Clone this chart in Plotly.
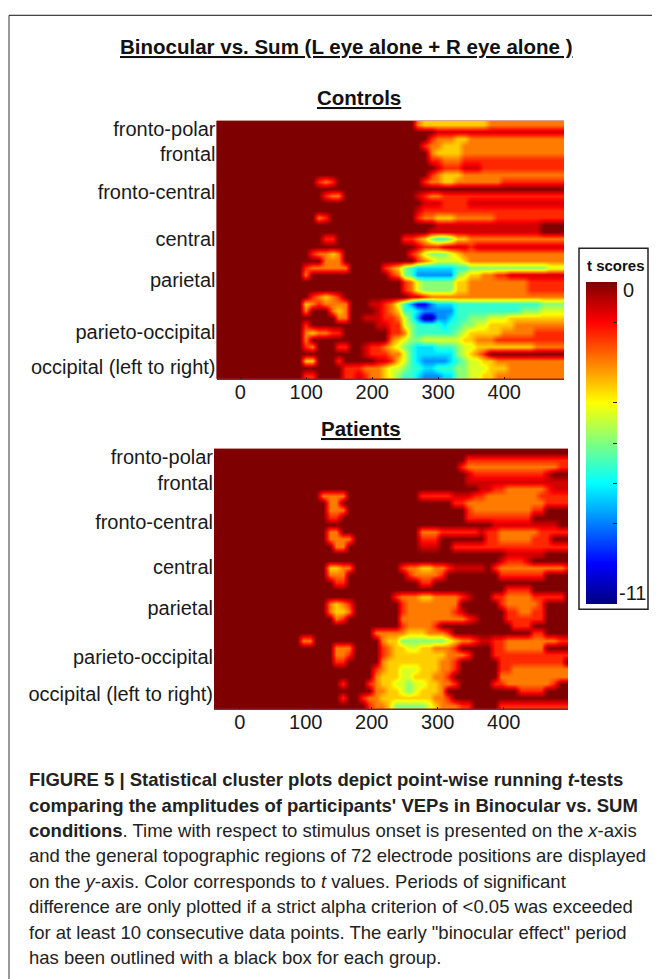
import plotly.graph_objects as go

# The page body keeps an 8 px margin, so the figure itself is 652 x 971.
PAGE_W, PAGE_H = 660, 979
BODY_MARGIN = 8
W, H = PAGE_W - BODY_MARGIN, PAGE_H - BODY_MARGIN
FONT = "Liberation Sans"

# Time of the left edge of each 10 ms column
T0_CONTROLS = -36
T0_PATIENTS = -39
N_CONTROLS = 53
N_PATIENTS = 54

X_TICKS = [0, 100, 200, 300, 400]
REGIONS = ["fronto-polar", "frontal", "fronto-central", "central", "parietal",
           "parieto-occipital", "occipital (left to right)"]
ROWPOS_CONTROLS = [1.1, 4.6, 10.0, 16.5, 22.2, 29.4, 34.3]
ROWPOS_PATIENTS = [1.2, 4.7, 10.1, 16.4, 22.0, 28.8, 33.9]

# Rows: "column:levels" runs, level in hex digits,
# a trailing + holds the last level through to the right edge.
CONTROLS = [
    "30:3444444444433+",
    "33:1+",
    "32:23334433333333+",
    "31:2334443333333+",
    "32:344443333333+",
    "32:22333222222+",
    "33:1222111222+",
    "32:2344433333333+",
    "15:232 31:2334433333332+",
    "",
    "16:233 30:12332222222222+",
    "31:111222211111+",
    "30:1222222222+",
    "15:32 30:2334443333332222+",
    "33:1111111111111111",
    "32:11111111111111111",
    "16:22 28:2234677644333333+",
    "30:1222111121+",
    "14:23343 29:23566654333+",
    "16:333 30:23455554333+",
    "13:2333333 25:23467888888776666666666665555+",
    "13:3 26:23679999996544332211+",
    "28:23566666443333333332+",
    "28:23566666443333333332+",
    "14:23432 29:1123333333333+",
    "13:432 16:3333 23:112357 29:9bb988877777777777776666+",
    "13:3 17:343 24:12347789999977777777776665555+",
    "18:33 22:11122357 30:9cc9987766655544+",
    "13:2 24:1122567777877665544443+",
    "13:343322 26:22367777776544444333332+",
    "13:3 26:34566555555443332+",
    "13:23 18:22 22:12234567888777655444444444333+",
    "22:1222335788888865432 1+",
    "13:44 18:2 24:1124578999987655443333+",
    "19:22 21:2333455677887776655544433+",
    "13:22 19:22 21:12334567789998866554433+",
]
PATIENTS = [
    "",
    "38:2+",
    "37:23333333333333322+",
    "38:1222222222221",
    "38:1+",
    "40:1122333333211111+",
    "16:3333 31:222221112233333333222222+",
    "17:33 36:22333333333333222+",
    "17:333 38:233333333322",
    "17:22 38:2222222222",
    "42:1111111111",
    "17:33 31:33322222212233333322222+",
    "17:3333 31:222 41:2233333222",
    "18:33 31:111 36:222222222222222222+",
    "44:111111",
    "43:12221",
    "17:4433 28:23344332 36:11111 42:2333333333322+",
    "17:333 29:233332 43:2222222",
    "18:22 31:22",
    "44:2222",
    "27:233344333321 42:22333322222",
    "17:3432 28:233333333 43:2333332",
    "17:3443 28:2333333321 44:223322",
    "18:32 28:333333333321 44:222222",
    "28:233332 45:222",
    "24:333334443332 48:22",
    "13:33 25:34466666665433211111 42:2233333333222+",
    "18:333 25:234455443332 42:22333333",
    "18:332 25:23444444443332 42:2222222222222+",
    "18:22 25:344444444332 43:2222222222",
    "24:2344555444332 43:22333333333+",
    "24:344455444332 43:33333333333+",
    "19:2 23:23445565544332 42:2233333332",
    "24:33445654443 46:2222",
    "19:2 22:23344444444332",
    "23:2334666665433322 43:2222222222+",
]
LEVEL_STEP = -0.9
T_MIN, T_MAX = -11, 0
COLOR_TICKS = [0, -1.375, -4.125, -5.5, -6.875, -8.25, -11]
COLOR_LABELS = ["", "", "", "", "", "", ""]


def decode(rows, ncols):
    grid = []
    for row in rows:
        vals = [0.0] * ncols
        for seg in row.split():
            start, sep, text = seg.partition(":")
            if not sep:
                continue
            c = int(start)
            hold = text.endswith("+")
            text = text.rstrip("+")
            for ch in text:
                if c < ncols:
                    vals[c] = int(ch, 16) * LEVEL_STEP
                c += 1
            if hold and text:
                for k in range(c, ncols):
                    vals[k] = int(text[-1], 16) * LEVEL_STEP
        grid.append(vals)
    return grid


def px_x(x):
    return (x - BODY_MARGIN) / W


def px_y(y):
    return 1 - (y - BODY_MARGIN) / H


fig = go.Figure()
panels = [
    (CONTROLS, T0_CONTROLS, N_CONTROLS, ROWPOS_CONTROLS, (216.5, 564), (118, 377), "", ""),
    (PATIENTS, T0_PATIENTS, N_PATIENTS, ROWPOS_PATIENTS, (214, 568), (447, 708), "2", "2"),
]
layout = {}
for rows, t0, n, rowpos, (x0, x1), (y0, y1), xs, ys in panels:
    fig.add_trace(go.Heatmap(
        z=decode(rows, n),
        x=[t0 + 5 + 10 * i for i in range(n)],
        y=[r + 0.5 for r in range(len(rows))],
        coloraxis="coloraxis", zsmooth="best",
        xaxis="x" + xs, yaxis="y" + ys,
    ))
    layout["xaxis" + xs] = dict(
        domain=[px_x(x0), px_x(x1)], range=[t0, t0 + 10 * (x1 - x0) / 6.6],
        anchor="y" + ys, tickvals=X_TICKS, ticks="inside", ticklen=2, tickcolor="#222",
        tickfont=dict(family=FONT, size=20, color="#1a1a1a"), showgrid=False, zeroline=False,
        showline=True, linecolor="#444", linewidth=1, ticklabelstandoff=-5,
    )
    layout["yaxis" + ys] = dict(
        domain=[px_y(y1), px_y(y0)], range=[36, 0], anchor="x" + xs,
        tickvals=rowpos, ticktext=REGIONS, ticks="", showgrid=False, zeroline=False,
        tickfont=dict(family=FONT, size=20, color="#1a1a1a"),
    )

annotations = []


def text(x, y, s, size, anchor="center", bold=False, color="#111"):
    annotations.append(dict(
        xref="paper", yref="paper", x=px_x(x), y=px_y(y), text=f"<b>{s}</b>" if bold else s,
        showarrow=False, xanchor=anchor, yanchor="middle",
        font=dict(family=FONT, size=size, color=color), align="left",
    ))


text(346, 43.5, "<u>Binocular vs. Sum (L eye alone + R eye alone )</u>", 20.5, bold=True)
text(359, 94.5, "<u>Controls</u>", 20.5, bold=True)
text(361, 427, "<u>Patients</u>", 20.5, bold=True)
text(616, 263, "t scores", 15, bold=True)
text(628, 288, "0", 20, color="#1a1a1a")
text(632, 592, "-11", 20, color="#1a1a1a")
CAPTION = [
    ("<b>FIGURE 5 | Statistical cluster plots depict point-wise running <i>t</i>-tests</b>", 779),
    ("<b>comparing the amplitudes of participants' VEPs in Binocular vs. SUM</b>", 804.5),
    ("<b>conditions</b>. Time with respect to stimulus onset is presented on the <i>x</i>-axis", 830),
    ("and the general topographic regions of 72 electrode positions are displayed", 855.5),
    ("on the <i>y</i>-axis. Color corresponds to <i>t</i> values. Periods of significant", 881),
    ("difference are only plotted if a strict alpha criterion of &lt;0.05 was exceeded", 906),
    ("for at least 10 consecutive data points. The early \"binocular effect\" period", 932),
    ("has been outlined with a black box for each group.", 957),
]
for s, y in CAPTION:
    text(27, y, s, 18.5, anchor="left", color="#222")

shapes = [
    dict(type="line", xref="paper", yref="paper", x0=px_x(9), x1=px_x(9), y0=px_y(12.3), y1=0,
         line=dict(color="#333", width=1)),
    dict(type="line", xref="paper", yref="paper", x0=px_x(9), x1=1, y0=px_y(12.3), y1=px_y(12.3),
         line=dict(color="#111", width=1)),
    dict(type="rect", xref="paper", yref="paper", x0=px_x(579), x1=px_x(648), y0=px_y(246), y1=px_y(608),
         line=dict(color="#222", width=1.5)),
]

fig.update_layout(
    width=W, height=H, margin=dict(l=0, r=0, t=0, b=0), autosize=False,
    paper_bgcolor="white", plot_bgcolor="#800000", showlegend=False,
    annotations=annotations, shapes=shapes,
    coloraxis=dict(
        cmin=T_MIN, cmax=T_MAX,
        colorscale=[[0, "#00007f"], [0.125, "#0000ff"], [0.375, "#00ffff"],
                    [0.625, "#ffff00"], [0.875, "#ff0000"], [1, "#7f0000"]],
        colorbar=dict(
            thickness=31, thicknessmode="pixels", len=322, lenmode="pixels",
            x=px_x(586), xanchor="left", y=px_y(603), yanchor="bottom", xpad=0, ypad=0,
            outlinewidth=0, tickvals=COLOR_TICKS, ticktext=COLOR_LABELS,
            ticks="inside", ticklen=4, tickcolor="#222",
            tickfont=dict(family=FONT, size=20, color="#1a1a1a"),
        ),
    ),
    **layout,
)
fig.write_html("out.html")
